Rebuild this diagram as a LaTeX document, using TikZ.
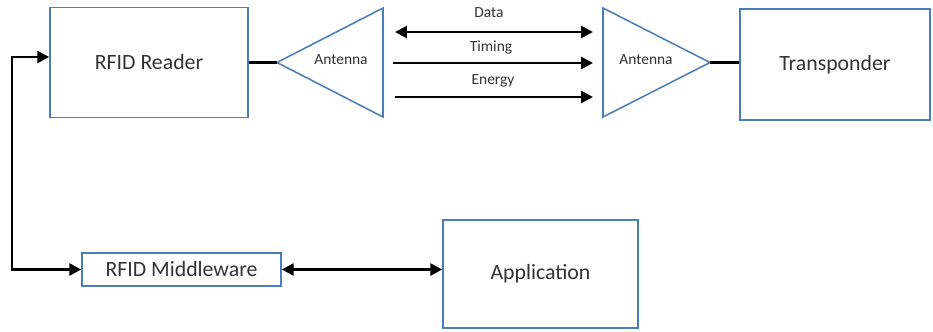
\documentclass[tikz,border=0pt]{standalone}
\usepackage{fontspec}
\setmainfont{Carlito}
\usetikzlibrary{arrows.meta}
\definecolor{boxblue}{HTML}{4A7EBB}
\definecolor{textgray}{HTML}{333333}
\tikzset{
	block/.style={draw=boxblue, line width=1.1pt, text=textgray, font=\fontsize{15.5}{18}\selectfont, inner sep=0pt},
	antline/.style={draw=boxblue, line width=1.1pt},
	link/.style={line width=2pt},
	sig/.style={line width=2pt, -{Triangle[length=8.5pt,width=8.5pt]}},
	dsig/.style={line width=2pt, {Triangle[length=8.5pt,width=8.5pt]}-{Triangle[length=8.5pt,width=8.5pt]}},
	small/.style={text=textgray, font=\fontsize{11}{13}\selectfont}
}
\begin{document}
\begin{tikzpicture}[x=0.025cm, y=-0.025cm]
		\useasboundingbox (0,0) rectangle (933,331);
		
		% Draw boxes.
		\node[block, minimum width=198*0.025cm, minimum height=110*0.025cm] (reader) at (149,62.5) {RFID Reader};
		\node[block, minimum width=190*0.025cm, minimum height=111*0.025cm] (tag) at (835,64.5) {Transponder};
		\node[block, minimum width=199*0.025cm, minimum height=33*0.025cm] (mw) at (181.5,269.5) {RFID Middleware};
		\node[block, minimum width=195*0.025cm, minimum height=108*0.025cm] (app) at (540.5,274) {Application};
		
		% Draw antenna of reader.
		\coordinate (a1) at (277,62.5);		\coordinate (a1t) at (383,8);		\coordinate (a1b) at (383,117);
		\draw[antline] (a1) -- (a1t) -- (a1b) -- cycle;
		\node[small] (a1text) at (341,60) {Antenna};
		
		% Draw antenna of transponder.
		\coordinate (a2) at (710,62.5);		\coordinate (a2t) at (603,8);		\coordinate (a2b) at (603,117);
		\draw[antline] (a2) -- (a2t) -- (a2b) -- cycle;
		\node[small] (a2text) at (646,60) {Antenna};
		
		% Connect antennas with reader and transponder.
		\draw[link] (reader.east) -- (a1);
		\draw[link] (a2) -- (tag.west |- a2);
		
		% Draw signals between antennas.
		\coordinate (d1) at (395,32);		\coordinate (d2) at (593,32);
		\coordinate (t1) at (393,63);		\coordinate (t2) at (593,63);
		\coordinate (e1) at (395,97);		\coordinate (e2) at (593,97);
		\draw[dsig] (d1) -- (d2);
		\draw[sig] (t1) -- (t2);
		\draw[sig] (e1) -- (e2);
		\node[small] (data) at (489,13) {Data};
		\node[small] (timing) at (491,48) {Timing};
		\node[small] (energy) at (493,81) {Energy};
		
		% Connect middleware with reader and application.
		\coordinate (bend) at (12,160);
		\coordinate (rin) at (reader.west |- 0,57);
		\draw[dsig] (rin) -| (bend) |- (mw.west);
		\draw[dsig] (mw.east) -- (app.west |- mw.east);
	\end{tikzpicture}
\end{document}
